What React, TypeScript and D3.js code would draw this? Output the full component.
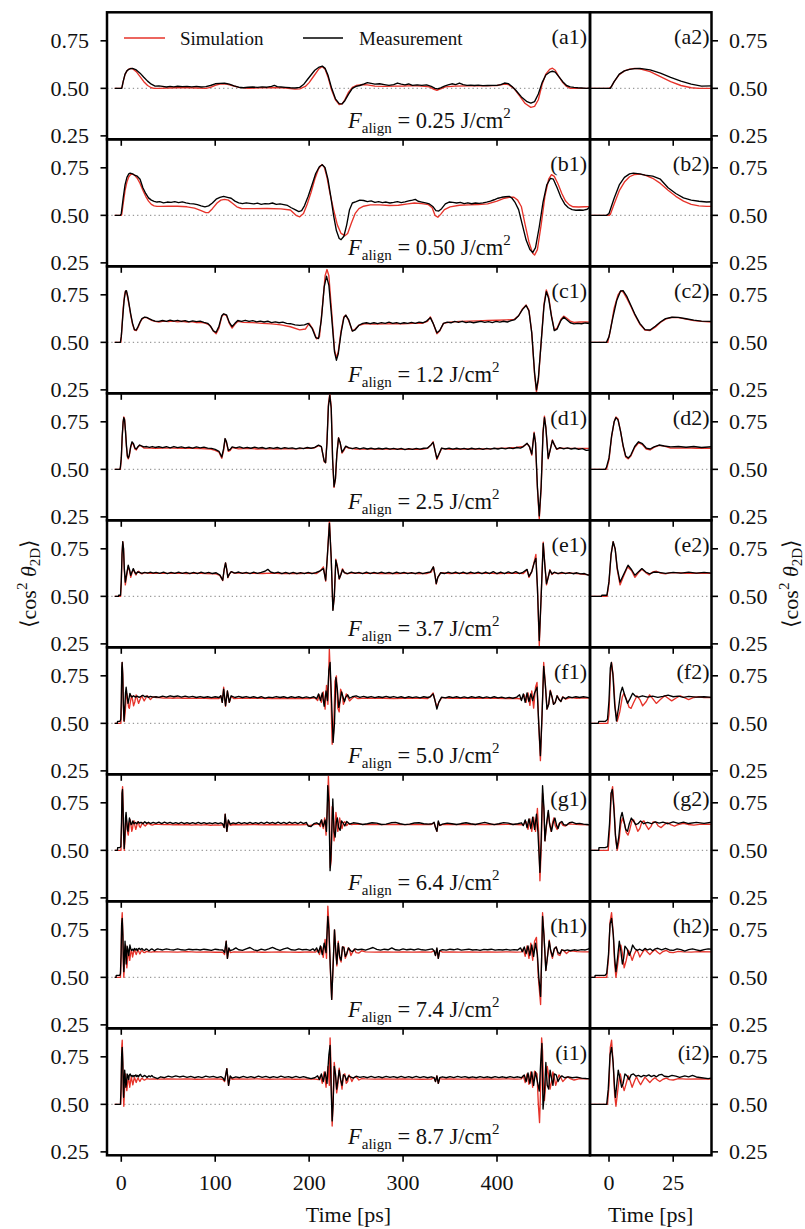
import React from 'react';
import * as d3 from 'd3';

type P = [number, number];

const rowLetters = ['a', 'b', 'c', 'd', 'e', 'f', 'g', 'h', 'i'];
const fluences = ['0.25', '0.50', '1.2', '2.5', '3.7', '5.0', '6.4', '7.4', '8.7'];
const yTicks = [0.25, 0.5, 0.75];
const yTickLabels = ['0.25', '0.50', '0.75'];
const xTicksLeft = [0, 100, 200, 300, 400];
const xTicksRight = [0, 25];
const seriesNames = ['Simulation', 'Measurement'];

const simA: P[] = [[-7,0.5],[0,0.5],[1,0.51],[2,0.535],[4,0.572],[6,0.592],[8,0.601],[10,0.605],[12,0.603],[16,0.588],[20,0.562],[24,0.535],[28,0.515],[32,0.503],[35,0.5],[40,0.5],[50,0.502],[60,0.503],[70,0.503],[80,0.502],[90,0.5],[95,0.505],[100,0.516],[105,0.522],[112,0.522],[118,0.515],[125,0.505],[135,0.5],[150,0.503],[165,0.504],[175,0.502],[185,0.496],[190,0.497],[196,0.51],[200,0.53],[205,0.565],[210,0.6],[214,0.615],[217,0.6],[220,0.56],[224,0.49],[228,0.44],[232,0.415],[235,0.418],[238,0.44],[242,0.48],[246,0.505],[250,0.515],[256,0.52],[262,0.518],[270,0.512],[280,0.51],[290,0.512],[300,0.512],[310,0.514],[320,0.512],[328,0.508],[333,0.495],[336,0.49],[340,0.497],[345,0.508],[355,0.512],[370,0.513],[385,0.513],[400,0.515],[408,0.522],[412,0.52],[418,0.5],[424,0.46],[430,0.42],[436,0.4],[440,0.405],[444,0.44],[448,0.52],[452,0.575],[456,0.6],[459,0.606],[462,0.595],[466,0.56],[470,0.53],[474,0.51],[478,0.5],[485,0.5],[499,0.5]];
const measA: P[] = [[-7,0.5],[0.5,0.5],[2,0.535],[4,0.575],[6,0.592],[8,0.6],[10,0.604],[12,0.605],[16,0.597],[20,0.58],[24,0.558],[28,0.538],[32,0.522],[36,0.512],[40,0.513],[44,0.51],[48,0.507],[52,0.51],[56,0.508],[60,0.511],[65,0.509],[70,0.51],[75,0.508],[80,0.51],[85,0.507],[90,0.509],[95,0.515],[100,0.524],[105,0.526],[110,0.527],[115,0.522],[120,0.513],[125,0.506],[130,0.503],[135,0.506],[140,0.507],[145,0.505],[150,0.508],[155,0.506],[160,0.51],[163,0.516],[166,0.509],[170,0.507],[175,0.505],[180,0.503],[185,0.502],[190,0.505],[194,0.52],[198,0.545],[202,0.57],[206,0.595],[210,0.61],[214,0.617],[217,0.605],[220,0.57],[224,0.5],[228,0.445],[232,0.42],[235,0.418],[238,0.435],[242,0.47],[246,0.5],[250,0.51],[254,0.515],[258,0.522],[262,0.53],[266,0.526],[270,0.522],[275,0.524],[280,0.52],[285,0.516],[290,0.52],[294,0.528],[298,0.522],[302,0.518],[306,0.523],[310,0.516],[315,0.518],[320,0.516],[325,0.518],[330,0.51],[334,0.5],[337,0.497],[340,0.503],[344,0.512],[348,0.518],[352,0.524],[356,0.52],[360,0.528],[364,0.52],[368,0.516],[372,0.517],[376,0.515],[380,0.517],[385,0.514],[390,0.515],[395,0.516],[400,0.516],[404,0.52],[408,0.528],[412,0.525],[416,0.51],[420,0.49],[426,0.455],[432,0.43],[436,0.422],[440,0.43],[444,0.47],[448,0.53],[452,0.57],[456,0.585],[459,0.59],[462,0.585],[466,0.56],[470,0.535],[474,0.515],[478,0.508],[482,0.505],[486,0.503],[490,0.502],[495,0.5],[499,0.502]];

const simB: P[] = [[-7,0.5],[0,0.5],[0.5,0.505],[2,0.56],[4,0.63],[6,0.675],[8,0.703],[10,0.715],[12,0.717],[14,0.712],[17,0.695],[20,0.668],[23,0.632],[26,0.6],[29,0.575],[32,0.558],[35,0.55],[38,0.547],[42,0.547],[50,0.548],[60,0.548],[70,0.545],[78,0.538],[85,0.525],[90,0.514],[93,0.515],[97,0.535],[102,0.565],[106,0.58],[110,0.584],[114,0.58],[118,0.565],[123,0.545],[128,0.536],[140,0.535],[155,0.536],[170,0.534],[180,0.528],[186,0.5],[190,0.492],[194,0.51],[198,0.56],[202,0.62],[206,0.69],[210,0.745],[213.5,0.767],[216,0.755],[219,0.7],[222,0.62],[226,0.53],[230,0.45],[234,0.405],[238,0.393],[241,0.405],[245,0.46],[249,0.51],[253,0.535],[258,0.548],[265,0.555],[275,0.555],[285,0.552],[295,0.553],[305,0.56],[312,0.565],[320,0.562],[327,0.556],[331,0.54],[334,0.5],[337,0.49],[340,0.505],[344,0.53],[350,0.545],[360,0.553],[370,0.555],[380,0.557],[390,0.56],[400,0.575],[408,0.59],[413,0.595],[418,0.595],[422,0.58],[426,0.545],[430,0.45],[434,0.36],[438,0.3],[440,0.291],[443,0.32],[447,0.45],[451,0.6],[455,0.69],[458,0.714],[461,0.705],[465,0.665],[469,0.615],[473,0.575],[477,0.555],[481,0.545],[487,0.544],[493,0.545],[499,0.546]];
const measB: P[] = [[-7,0.5],[-1,0.5],[0,0.51],[2,0.59],[4,0.66],[6,0.7],[8,0.718],[9.5,0.722],[12,0.718],[14,0.712],[17,0.706],[20,0.69],[23,0.645],[26,0.615],[29,0.592],[32,0.58],[35,0.574],[38,0.57],[41,0.572],[45,0.566],[49,0.57],[53,0.568],[57,0.572],[61,0.567],[65,0.571],[69,0.566],[73,0.562],[77,0.56],[81,0.556],[85,0.55],[89,0.545],[93,0.55],[97,0.565],[101,0.585],[105,0.594],[109,0.6],[113,0.595],[117,0.59],[121,0.575],[125,0.566],[129,0.562],[133,0.566],[137,0.563],[141,0.56],[145,0.564],[149,0.558],[153,0.562],[157,0.56],[161,0.565],[165,0.558],[169,0.56],[173,0.556],[177,0.552],[181,0.54],[185,0.53],[189,0.52],[192,0.525],[195,0.55],[199,0.6],[203,0.66],[207,0.72],[211,0.757],[214,0.766],[217,0.75],[220,0.69],[223,0.6],[226,0.5],[229,0.42],[232,0.378],[234,0.372],[237,0.39],[240,0.45],[243,0.53],[246,0.565],[250,0.572],[254,0.58],[258,0.578],[262,0.572],[266,0.576],[270,0.568],[274,0.572],[278,0.567],[282,0.57],[286,0.565],[290,0.568],[294,0.572],[298,0.567],[302,0.571],[306,0.576],[310,0.58],[313,0.584],[316,0.574],[320,0.57],[324,0.566],[328,0.56],[332,0.545],[335,0.525],[338,0.523],[341,0.535],[345,0.56],[349,0.57],[353,0.568],[357,0.565],[361,0.568],[365,0.562],[369,0.566],[373,0.561],[377,0.565],[381,0.563],[385,0.566],[389,0.57],[393,0.575],[397,0.582],[401,0.59],[405,0.595],[409,0.598],[413,0.6],[416,0.59],[419,0.57],[423,0.53],[427,0.45],[431,0.37],[435,0.32],[438,0.304],[441,0.33],[445,0.44],[449,0.57],[453,0.66],[457,0.695],[460,0.69],[464,0.645],[468,0.595],[472,0.56],[476,0.54],[480,0.53],[484,0.527],[488,0.528],[492,0.527],[496,0.532],[499,0.545]];

const simC: P[] = [[-7,0.5],[-0.5,0.5],[0.5,0.56],[2,0.68],[3.5,0.75],[4.5,0.77],[5.5,0.765],[7,0.73],[8.5,0.69],[10,0.645],[12,0.595],[14,0.565],[16,0.562],[18,0.58],[20,0.605],[22,0.622],[24.5,0.631],[27,0.63],[30,0.622],[33,0.614],[36,0.61],[40,0.607],[45,0.612],[50,0.609],[55,0.612],[60,0.608],[65,0.611],[70,0.607],[75,0.609],[80,0.604],[85,0.605],[90,0.6],[94,0.59],[98,0.56],[101,0.545],[104,0.575],[107,0.635],[109,0.648],[112,0.64],[115,0.6],[118,0.575],[121,0.595],[124,0.61],[130,0.605],[140,0.604],[150,0.6],[160,0.597],[170,0.592],[180,0.582],[190,0.566],[196,0.57],[200,0.6],[204,0.57],[208,0.518],[211,0.53],[214,0.68],[217,0.85],[219,0.883],[221,0.85],[224,0.66],[227,0.46],[229,0.42],[231,0.45],[234,0.56],[237,0.635],[239,0.643],[242,0.615],[246,0.56],[249,0.57],[253,0.59],[260,0.598],[270,0.596],[280,0.597],[290,0.598],[300,0.597],[310,0.6],[320,0.6],[326,0.61],[329,0.634],[332,0.6],[336,0.545],[339,0.56],[343,0.6],[350,0.606],[360,0.61],[370,0.612],[380,0.613],[390,0.615],[400,0.616],[410,0.618],[418,0.62],[423,0.64],[427,0.675],[431,0.696],[434,0.67],[437,0.55],[440,0.33],[442,0.238],[444,0.3],[447,0.5],[450,0.7],[452.5,0.776],[455,0.74],[458,0.64],[461,0.565],[464,0.575],[468,0.62],[471,0.638],[474,0.628],[478,0.612],[482,0.605],[488,0.607],[494,0.607],[499,0.606]];
const measC: P[] = [[-7,0.5],[-1,0.5],[0,0.53],[1.5,0.63],[3,0.72],[4.5,0.77],[5.5,0.772],[7,0.74],[8.5,0.695],[10,0.65],[12,0.6],[14,0.567],[16,0.565],[18,0.585],[20,0.607],[22,0.625],[24.5,0.632],[27,0.631],[30,0.624],[33,0.617],[36,0.612],[40,0.61],[44,0.615],[48,0.61],[52,0.617],[56,0.612],[60,0.616],[64,0.61],[68,0.614],[72,0.608],[76,0.613],[80,0.609],[84,0.612],[88,0.605],[92,0.6],[95,0.585],[98,0.56],[101,0.553],[104,0.585],[107,0.64],[109,0.65],[112,0.645],[115,0.605],[118,0.583],[121,0.6],[124,0.615],[128,0.61],[132,0.616],[136,0.61],[140,0.614],[144,0.608],[148,0.612],[152,0.607],[156,0.611],[160,0.604],[164,0.608],[168,0.603],[172,0.606],[176,0.6],[180,0.598],[185,0.592],[190,0.589],[195,0.592],[199,0.6],[203,0.575],[207,0.525],[210,0.52],[213,0.62],[216,0.79],[218.5,0.848],[221,0.8],[224,0.63],[227,0.45],[229,0.406],[231,0.44],[234,0.55],[237,0.63],[239,0.643],[242,0.62],[246,0.559],[249,0.566],[253,0.59],[257,0.6],[261,0.603],[265,0.598],[269,0.603],[273,0.598],[277,0.604],[281,0.6],[285,0.606],[289,0.6],[293,0.604],[297,0.598],[301,0.603],[305,0.6],[309,0.605],[313,0.6],[317,0.606],[321,0.603],[325,0.612],[329,0.63],[332,0.6],[336,0.55],[339,0.562],[343,0.6],[347,0.606],[351,0.603],[355,0.61],[359,0.605],[363,0.61],[367,0.604],[371,0.608],[375,0.603],[379,0.607],[383,0.61],[387,0.605],[391,0.609],[395,0.604],[399,0.61],[403,0.606],[407,0.611],[411,0.607],[415,0.614],[419,0.62],[423,0.64],[427,0.672],[431,0.694],[434,0.665],[437,0.55],[440,0.34],[442,0.25],[444,0.31],[447,0.5],[450,0.69],[452.5,0.767],[455,0.73],[458,0.635],[461,0.562],[464,0.57],[468,0.615],[471,0.633],[474,0.62],[478,0.603],[482,0.597],[486,0.6],[490,0.598],[494,0.602],[499,0.599]];

const simD: P[] = [[-7,0.5],[-1,0.5],[0,0.55],[1,0.67],[2,0.75],[2.7,0.776],[3.5,0.765],[4.5,0.7],[5.5,0.62],[6.5,0.565],[7.5,0.555],[8.5,0.57],[10,0.615],[11.5,0.64],[13,0.63],[14.5,0.607],[16,0.602],[17.5,0.615],[19.5,0.626],[21.5,0.622],[24,0.612],[27,0.612],[30,0.613],[34,0.611],[38,0.61],[45,0.612],[55,0.612],[65,0.61],[75,0.611],[85,0.609],[95,0.607],[100,0.6],[104,0.59],[107,0.558],[109,0.6],[110.5,0.66],[112,0.64],[114,0.595],[116,0.6],[118,0.615],[125,0.608],[135,0.61],[145,0.607],[155,0.609],[165,0.607],[175,0.609],[185,0.608],[195,0.61],[205,0.612],[210,0.625],[213,0.62],[216,0.54],[217.5,0.535],[219,0.65],[220.5,0.84],[222,0.9],[223.5,0.83],[225,0.55],[226.5,0.405],[228,0.45],[229.5,0.58],[231.3,0.667],[233,0.64],[235,0.585],[237,0.6],[239,0.62],[242,0.612],[250,0.607],[260,0.606],[270,0.608],[280,0.606],[290,0.607],[300,0.605],[310,0.606],[320,0.605],[326,0.61],[330,0.63],[332,0.645],[334,0.6],[336,0.552],[338,0.575],[341,0.61],[350,0.605],[360,0.607],[370,0.607],[380,0.607],[390,0.608],[400,0.61],[410,0.612],[420,0.615],[428,0.62],[432,0.635],[434.5,0.62],[437,0.575],[439.5,0.695],[441,0.64],[443,0.4],[445,0.24],[447,0.4],[449,0.7],[450.5,0.78],[452,0.72],[454.5,0.555],[456.5,0.6],[459,0.655],[461,0.63],[463.5,0.605],[467,0.612],[475,0.61],[485,0.61],[499,0.61]];
const measD: P[] = [[-7,0.5],[-1.5,0.5],[-1,0.51],[0,0.56],[1,0.675],[2,0.75],[2.7,0.772],[3.5,0.76],[4.5,0.7],[5.5,0.625],[6.5,0.57],[7.5,0.56],[8.5,0.575],[10,0.62],[11.5,0.645],[13,0.635],[14.5,0.612],[16,0.607],[17.5,0.618],[19.5,0.628],[21.5,0.623],[24,0.618],[27,0.62],[30,0.616],[33,0.62],[36,0.615],[40,0.619],[44,0.614],[48,0.619],[52,0.613],[56,0.62],[60,0.614],[64,0.618],[68,0.613],[72,0.617],[76,0.612],[80,0.618],[84,0.613],[88,0.617],[92,0.612],[96,0.61],[100,0.605],[104,0.595],[107,0.565],[109,0.61],[110.5,0.662],[112,0.645],[114,0.6],[116,0.605],[118,0.618],[122,0.613],[126,0.618],[130,0.612],[134,0.616],[138,0.611],[142,0.617],[146,0.612],[150,0.615],[154,0.609],[158,0.614],[162,0.61],[166,0.615],[170,0.609],[174,0.614],[178,0.61],[182,0.613],[186,0.608],[190,0.613],[194,0.609],[198,0.615],[202,0.611],[206,0.616],[210,0.627],[213,0.62],[216,0.545],[217.5,0.535],[219,0.64],[220.5,0.83],[222,0.89],[223.5,0.82],[225,0.55],[226.5,0.41],[228,0.45],[229.5,0.58],[231.3,0.665],[233,0.64],[235,0.59],[237,0.605],[239,0.622],[242,0.614],[246,0.609],[250,0.614],[254,0.608],[258,0.613],[262,0.607],[266,0.612],[270,0.606],[274,0.611],[278,0.607],[282,0.612],[286,0.606],[290,0.61],[294,0.605],[298,0.61],[302,0.604],[306,0.609],[310,0.605],[314,0.61],[318,0.606],[322,0.611],[326,0.612],[330,0.63],[332,0.642],[334,0.6],[336,0.557],[338,0.578],[341,0.612],[345,0.607],[349,0.612],[353,0.606],[357,0.611],[361,0.606],[365,0.61],[369,0.605],[373,0.611],[377,0.606],[381,0.61],[385,0.605],[389,0.61],[393,0.606],[397,0.611],[401,0.607],[405,0.612],[409,0.608],[413,0.613],[417,0.609],[421,0.615],[425,0.612],[428,0.62],[432,0.637],[434.5,0.62],[437,0.58],[439.5,0.69],[441,0.64],[443,0.41],[445,0.255],[447,0.41],[449,0.69],[450.5,0.772],[452,0.72],[454.5,0.558],[456.5,0.6],[459,0.652],[461,0.63],[463.5,0.607],[467,0.614],[471,0.608],[475,0.613],[479,0.607],[483,0.611],[487,0.605],[491,0.609],[495,0.6],[499,0.602]];

const simE: P[] = [[-7,0.5],[-0.8,0.5],[0,0.57],[0.8,0.72],[1.6,0.787],[2.4,0.75],[3.2,0.64],[4.3,0.56],[5.5,0.6],[7.2,0.655],[8.8,0.635],[10.1,0.6],[11.5,0.625],[12.8,0.642],[14.3,0.625],[15.6,0.612],[17,0.628],[18.5,0.632],[20,0.622],[22,0.618],[24,0.625],[27,0.624],[30,0.621],[35,0.622],[40,0.621],[50,0.621],[60,0.622],[70,0.62],[80,0.622],[90,0.62],[100,0.619],[105,0.61],[108,0.583],[109.5,0.64],[111,0.676],[112.3,0.64],[113.5,0.598],[115,0.615],[117,0.63],[120,0.622],[130,0.622],[140,0.621],[150,0.62],[160,0.622],[170,0.62],[180,0.621],[190,0.62],[200,0.622],[208,0.62],[212,0.635],[215.2,0.655],[217.6,0.58],[219.5,0.72],[221.6,0.9],[223.5,0.7],[225.3,0.43],[226.8,0.5],[228.4,0.695],[230,0.66],[232,0.59],[233.8,0.615],[235.5,0.645],[237.5,0.625],[240,0.618],[245,0.624],[255,0.621],[265,0.622],[275,0.62],[285,0.621],[295,0.62],[305,0.622],[315,0.62],[325,0.62],[330,0.628],[332.3,0.655],[334,0.61],[335.3,0.565],[337,0.6],[340,0.625],[350,0.62],[360,0.622],[370,0.62],[380,0.621],[390,0.622],[400,0.62],[410,0.621],[420,0.622],[428,0.62],[432,0.64],[434,0.6],[437,0.63],[439.5,0.68],[441.4,0.72],[443,0.55],[445,0.24],[447,0.5],[449.2,0.785],[451,0.66],[452.7,0.56],[454.5,0.6],[456.3,0.64],[458.5,0.615],[461,0.625],[465,0.62],[475,0.622],[485,0.62],[495,0.615],[499,0.614]];
const measE: P[] = [[-7,0.5],[-3,0.5],[-2.8,0.506],[-0.8,0.506],[0,0.58],[0.8,0.72],[1.6,0.787],[2.4,0.75],[3.2,0.65],[4.3,0.575],[5.5,0.61],[7.4,0.664],[8.8,0.64],[10.1,0.611],[11.5,0.63],[12.8,0.646],[14.3,0.628],[15.8,0.618],[17.5,0.628],[19.5,0.626],[22,0.621],[25,0.626],[28,0.622],[31,0.627],[34,0.622],[37,0.626],[41,0.621],[45,0.627],[49,0.62],[53,0.626],[57,0.621],[61,0.627],[65,0.621],[69,0.626],[73,0.62],[77,0.626],[81,0.62],[85,0.627],[89,0.621],[93,0.626],[97,0.62],[101,0.624],[105,0.612],[108,0.585],[109.5,0.64],[111,0.676],[112.3,0.64],[113.5,0.6],[115,0.617],[117,0.63],[121,0.622],[125,0.628],[129,0.621],[133,0.626],[137,0.62],[141,0.627],[145,0.621],[149,0.626],[153,0.632],[156,0.642],[159,0.628],[163,0.622],[167,0.627],[171,0.62],[175,0.626],[179,0.62],[183,0.626],[187,0.619],[191,0.625],[195,0.62],[199,0.626],[203,0.619],[207,0.625],[211,0.632],[215.2,0.646],[217.6,0.585],[219.5,0.72],[221.6,0.884],[223.5,0.7],[225.3,0.426],[226.8,0.5],[228.4,0.69],[230,0.655],[232,0.593],[233.8,0.615],[235.5,0.64],[237.5,0.625],[241,0.62],[245,0.627],[249,0.621],[253,0.626],[257,0.62],[261,0.627],[265,0.62],[269,0.626],[273,0.621],[277,0.627],[281,0.621],[285,0.626],[289,0.62],[293,0.627],[297,0.621],[301,0.626],[305,0.62],[309,0.625],[313,0.619],[317,0.626],[321,0.62],[325,0.625],[329,0.628],[332.3,0.655],[334,0.61],[335.3,0.567],[337,0.6],[340,0.624],[344,0.62],[348,0.627],[352,0.621],[356,0.628],[360,0.62],[364,0.627],[368,0.62],[372,0.628],[376,0.621],[380,0.627],[384,0.619],[388,0.628],[392,0.62],[396,0.63],[400,0.619],[404,0.628],[408,0.62],[412,0.629],[416,0.621],[420,0.63],[424,0.62],[428,0.628],[432,0.642],[434,0.605],[437,0.63],[439.5,0.675],[441.4,0.7],[443,0.55],[445,0.268],[447,0.5],[449.2,0.778],[451,0.66],[452.7,0.567],[454.5,0.6],[456.3,0.637],[458.5,0.618],[461,0.627],[465,0.62],[469,0.626],[473,0.62],[477,0.625],[481,0.619],[485,0.624],[489,0.618],[493,0.62],[497,0.612],[499,0.611]];

const simF: P[] = [[-7,0.5],[-0.5,0.5],[0,0.55],[0.5,0.75],[1.0,0.82],[1.7,0.74],[2.4,0.58],[3.2,0.51],[4.2,0.56],[5.2,0.64],[5.8,0.658],[6.8,0.625],[7.8,0.585],[8.6,0.579],[9.6,0.61],[10.9,0.645],[12,0.625],[13.1,0.592],[14.5,0.615],[15.8,0.65],[17,0.63],[18.4,0.605],[20,0.625],[21.7,0.645],[23,0.632],[24.4,0.618],[26,0.632],[27.7,0.645],[29.3,0.635],[31,0.625],[33,0.636],[35,0.64],[37,0.635],[40,0.636],[45,0.633],[50,0.634],[55,0.632],[60,0.634],[65,0.632],[70,0.633],[75,0.631],[80,0.633],[85,0.631],[90,0.632],[95,0.63],[100,0.632],[104,0.63],[106,0.645],[107.5,0.61],[109,0.69],[111,0.59],[113,0.67],[115,0.61],[117,0.642],[120,0.63],[130,0.633],[140,0.631],[150,0.632],[160,0.63],[170,0.632],[180,0.63],[190,0.631],[200,0.63],[206,0.634],[209,0.62],[211,0.65],[213,0.61],[215,0.665],[217,0.575],[218.5,0.7],[220,0.6],[221.5,0.89],[223,0.7],[224.5,0.39],[226,0.45],[227.5,0.72],[229,0.75],[230.5,0.58],[232,0.56],[233.5,0.68],[235,0.66],[236.5,0.6],[238,0.62],[239.5,0.655],[241,0.64],[243,0.618],[245,0.628],[248,0.64],[252,0.63],[260,0.633],[270,0.631],[280,0.632],[290,0.63],[300,0.632],[310,0.631],[320,0.632],[326,0.63],[329,0.64],[332,0.66],[334,0.62],[336,0.585],[338,0.61],[341,0.635],[350,0.632],[360,0.633],[370,0.631],[380,0.632],[390,0.631],[400,0.632],[410,0.63],[420,0.632],[426,0.628],[429,0.65],[431,0.61],[433,0.66],[435,0.595],[437,0.67],[439,0.58],[441,0.69],[442.6,0.715],[444.4,0.5],[446.2,0.304],[448,0.55],[449.7,0.82],[451.5,0.7],[453.2,0.575],[455,0.6],[456.7,0.675],[458.5,0.64],[460.2,0.6],[462,0.61],[464,0.645],[466,0.628],[468,0.615],[470,0.64],[473,0.627],[478,0.635],[485,0.632],[492,0.634],[499,0.633]];
const measF: P[] = [[-7,0.5],[-4.2,0.5],[-4,0.51],[-1.5,0.51],[-0.6,0.52],[0,0.62],[0.5,0.79],[0.9,0.82],[1.5,0.76],[2.2,0.6],[2.9,0.513],[3.7,0.58],[4.5,0.66],[5.2,0.69],[6.2,0.645],[7.2,0.605],[8.2,0.63],[9.2,0.658],[10.3,0.643],[11.5,0.638],[13,0.645],[15,0.638],[17,0.643],[19,0.637],[21,0.642],[23,0.648],[25,0.64],[27,0.643],[29,0.637],[31,0.642],[34,0.638],[37,0.64],[40,0.637],[44,0.643],[48,0.638],[52,0.645],[56,0.64],[60,0.644],[64,0.638],[68,0.643],[72,0.638],[76,0.642],[80,0.636],[84,0.641],[88,0.636],[92,0.64],[96,0.635],[100,0.64],[104,0.636],[106,0.645],[107.5,0.61],[109,0.68],[111,0.593],[113,0.67],[115,0.61],[117,0.645],[121,0.636],[125,0.642],[129,0.636],[133,0.641],[137,0.635],[141,0.64],[145,0.634],[149,0.64],[153,0.633],[157,0.638],[161,0.635],[165,0.641],[169,0.636],[173,0.64],[177,0.634],[181,0.64],[185,0.635],[189,0.64],[193,0.634],[197,0.639],[201,0.634],[205,0.64],[208,0.63],[210,0.655],[212,0.62],[214,0.66],[216,0.59],[218,0.67],[219.5,0.62],[221,0.78],[222.3,0.82],[224,0.6],[225.5,0.4],[227,0.5],[228.5,0.74],[230,0.68],[231.5,0.584],[233,0.62],[234.5,0.665],[236,0.64],[237.5,0.615],[239,0.638],[241,0.65],[243,0.632],[246,0.64],[250,0.645],[254,0.637],[258,0.642],[262,0.636],[266,0.641],[270,0.635],[274,0.64],[278,0.636],[282,0.642],[286,0.636],[290,0.641],[294,0.635],[298,0.64],[302,0.634],[306,0.64],[310,0.635],[314,0.639],[318,0.634],[322,0.64],[326,0.636],[329,0.64],[332,0.655],[334,0.62],[336,0.575],[338,0.61],[341,0.638],[345,0.634],[349,0.64],[353,0.635],[357,0.64],[361,0.634],[365,0.639],[369,0.634],[373,0.64],[377,0.635],[381,0.64],[385,0.634],[389,0.639],[393,0.634],[397,0.64],[401,0.634],[405,0.638],[409,0.633],[413,0.637],[417,0.632],[421,0.638],[424,0.65],[426,0.62],[428,0.655],[430,0.61],[432,0.66],[434,0.615],[436,0.655],[438,0.62],[440,0.66],[442.6,0.69],[444.4,0.5],[446.2,0.33],[448,0.55],[449.7,0.8],[451.5,0.7],[453.2,0.575],[455,0.6],[456.7,0.67],[458.5,0.64],[460.2,0.6],[462,0.61],[464,0.645],[466,0.625],[468,0.615],[470,0.638],[473,0.63],[476,0.64],[480,0.635],[484,0.64],[488,0.636],[492,0.64],[496,0.637],[499,0.634]];

const simG: P[] = [[-7,0.5],[-0.3,0.5],[0.3,0.62],[0.9,0.8],[1.4,0.835],[2,0.72],[2.6,0.56],[3.2,0.5],[3.9,0.55],[4.6,0.64],[5.3,0.67],[6,0.64],[6.7,0.595],[7.4,0.58],[8.1,0.61],[8.9,0.655],[9.6,0.66],[10.4,0.63],[11.2,0.6],[12,0.615],[12.8,0.65],[13.6,0.655],[14.5,0.63],[15.4,0.61],[16.3,0.625],[17.2,0.65],[18.2,0.648],[19.2,0.628],[20.3,0.62],[21.5,0.635],[22.8,0.645],[24,0.635],[25.5,0.628],[27,0.636],[29,0.642],[31,0.636],[33,0.633],[36,0.638],[40,0.637],[45,0.635],[50,0.637],[55,0.634],[60,0.636],[65,0.634],[70,0.636],[75,0.633],[80,0.635],[85,0.633],[90,0.635],[95,0.632],[100,0.634],[105,0.633],[108,0.635],[109.5,0.62],[110.6,0.69],[112.4,0.6],[114,0.655],[116,0.632],[120,0.636],[130,0.634],[140,0.636],[150,0.634],[160,0.636],[170,0.634],[180,0.636],[190,0.634],[197,0.636],[200,0.63],[205,0.635],[210,0.64],[212,0.625],[213.5,0.66],[215,0.615],[216.5,0.67],[218,0.58],[219.5,0.72],[220.5,0.89],[221.5,0.75],[222.5,0.41],[223.5,0.45],[224.5,0.73],[225.5,0.72],[226.5,0.55],[227.5,0.6],[228.5,0.7],[229.5,0.66],[230.5,0.6],[231.5,0.63],[232.5,0.67],[233.5,0.645],[235,0.615],[236.5,0.645],[238,0.65],[240,0.63],[242,0.642],[245,0.635],[250,0.638],[260,0.635],[270,0.637],[280,0.635],[290,0.637],[300,0.635],[310,0.636],[320,0.635],[330,0.636],[333,0.645],[334.5,0.62],[336,0.6],[337.5,0.65],[339,0.63],[342,0.636],[350,0.637],[360,0.635],[370,0.637],[380,0.636],[390,0.637],[400,0.636],[410,0.637],[420,0.636],[428,0.634],[431,0.65],[433,0.61],[435,0.665],[437,0.6],[439,0.675],[441,0.6],[443,0.72],[444.5,0.58],[445.7,0.34],[447,0.5],[448.5,0.8],[450,0.7],[451,0.55],[452.5,0.62],[454.6,0.7],[456,0.64],[457.5,0.6],[459,0.64],[460.5,0.67],[462,0.63],[464,0.61],[466,0.64],[468,0.648],[470,0.632],[473,0.628],[476,0.64],[480,0.638],[488,0.636],[499,0.634]];
const measG: P[] = [[-7,0.5],[-4,0.5],[-3.9,0.514],[-1.5,0.514],[-0.5,0.52],[0.2,0.64],[0.8,0.8],[1.3,0.82],[1.9,0.72],[2.5,0.58],[3.1,0.51],[3.8,0.57],[4.5,0.67],[5.1,0.7],[5.8,0.655],[6.5,0.61],[7.2,0.6],[7.9,0.64],[8.7,0.67],[9.5,0.655],[10.4,0.635],[11.3,0.64],[12.3,0.655],[13.5,0.64],[15,0.647],[16.5,0.64],[18,0.65],[19.5,0.643],[21,0.648],[23,0.64],[25,0.65],[27,0.642],[29,0.648],[31,0.641],[34,0.647],[37,0.642],[40,0.648],[43,0.641],[46,0.648],[49,0.642],[52,0.647],[55,0.64],[58,0.646],[61,0.641],[64,0.647],[67,0.64],[70,0.646],[73,0.64],[76,0.646],[79,0.641],[82,0.647],[85,0.64],[88,0.646],[91,0.64],[94,0.645],[97,0.64],[100,0.646],[103,0.64],[106,0.645],[108,0.64],[109.5,0.62],[110.6,0.69],[112.4,0.6],[114,0.66],[116,0.638],[119,0.645],[122,0.64],[125,0.647],[128,0.641],[131,0.646],[134,0.64],[137,0.647],[140,0.641],[143,0.646],[146,0.64],[149,0.647],[152,0.641],[155,0.648],[158,0.642],[161,0.647],[164,0.641],[167,0.648],[170,0.641],[173,0.647],[176,0.64],[179,0.648],[182,0.642],[185,0.647],[188,0.64],[191,0.648],[194,0.641],[197,0.647],[199,0.628],[202,0.625],[205,0.64],[208,0.645],[211,0.635],[213,0.66],[215,0.625],[217,0.66],[218.5,0.6],[219.8,0.84],[221,0.75],[222.3,0.393],[223.5,0.5],[225.2,0.77],[226.5,0.6],[227.7,0.57],[229,0.65],[230,0.67],[231.5,0.62],[233,0.605],[234.5,0.655],[236,0.645],[238,0.628],[240,0.652],[243,0.638],[247,0.645],[252,0.642],[257,0.636],[262,0.64],[267,0.645],[272,0.643],[277,0.636],[282,0.638],[287,0.645],[292,0.647],[297,0.64],[302,0.635],[307,0.638],[312,0.644],[317,0.645],[322,0.64],[327,0.638],[331,0.64],[333,0.648],[334.5,0.62],[336,0.6],[337.5,0.655],[339,0.632],[342,0.638],[347,0.643],[352,0.64],[357,0.636],[362,0.641],[367,0.645],[372,0.64],[377,0.636],[382,0.642],[387,0.647],[392,0.641],[397,0.635],[402,0.64],[407,0.646],[412,0.643],[417,0.636],[422,0.64],[426,0.645],[428,0.63],[430,0.66],[432,0.62],[434,0.665],[436,0.615],[438,0.675],[440,0.61],[442,0.69],[443.5,0.6],[445.7,0.384],[447,0.55],[448.5,0.84],[450,0.72],[451,0.55],[452.5,0.63],[454.6,0.71],[456,0.64],[458,0.6],[460,0.65],[461.7,0.67],[463.5,0.63],[465,0.615],[467,0.645],[469,0.652],[471,0.635],[474,0.632],[477,0.645],[480,0.648],[484,0.64],[488,0.642],[492,0.638],[496,0.636],[499,0.634]];

const simH: P[] = [[-7,0.5],[-0.9,0.5],[-0.2,0.6],[0.4,0.79],[1.0,0.84],[1.6,0.74],[2.2,0.57],[2.7,0.5],[3.3,0.56],[4.0,0.64],[4.6,0.67],[5.3,0.62],[5.9,0.55],[6.7,0.59],[7.5,0.643],[8.2,0.625],[9.0,0.589],[9.8,0.62],[10.7,0.646],[11.4,0.63],[12,0.607],[13,0.63],[14,0.648],[15,0.632],[15.9,0.62],[16.9,0.635],[17.9,0.645],[18.9,0.632],[19.8,0.623],[21,0.636],[22.3,0.642],[23.5,0.632],[25,0.63],[27,0.637],[29,0.634],[32,0.633],[35,0.635],[40,0.634],[50,0.634],[60,0.633],[70,0.635],[80,0.633],[90,0.634],[100,0.632],[108,0.633],[110,0.62],[111.7,0.69],[113,0.6],[114.5,0.65],[116,0.63],[120,0.634],[130,0.633],[140,0.634],[150,0.632],[160,0.633],[170,0.634],[180,0.633],[190,0.632],[200,0.634],[207,0.633],[209,0.645],[211,0.62],[213,0.66],[215,0.605],[217,0.7],[218.5,0.6],[219.9,0.875],[221,0.78],[222.5,0.55],[224,0.384],[225.5,0.56],[227,0.75],[228.3,0.64],[229.5,0.56],[231,0.69],[232.5,0.6],[234,0.58],[235.5,0.66],[237,0.66],[238.5,0.6],[240,0.62],[241.5,0.655],[243,0.645],[244.5,0.615],[246,0.63],[248,0.648],[250,0.63],[253,0.628],[256,0.64],[260,0.634],[270,0.633],[280,0.634],[290,0.633],[300,0.634],[310,0.633],[320,0.634],[330,0.633],[333,0.64],[334.5,0.615],[336,0.65],[337.5,0.6],[339,0.64],[342,0.633],[350,0.634],[360,0.633],[370,0.634],[380,0.633],[390,0.634],[400,0.633],[410,0.634],[420,0.633],[426,0.634],[428,0.65],[430,0.61],[432,0.665],[434,0.6],[436,0.68],[438,0.59],[440,0.69],[442,0.71],[444,0.5],[446.4,0.357],[447.5,0.6],[448.5,0.84],[450,0.72],[452,0.536],[454,0.62],[455.6,0.696],[457,0.64],[459,0.6],[461,0.65],[463,0.66],[465,0.62],[467,0.615],[469,0.645],[471,0.64],[474,0.625],[477,0.638],[480,0.64],[485,0.635],[492,0.634],[499,0.634]];
const measH: P[] = [[-7,0.5],[-5.5,0.5],[-5.4,0.51],[-1.6,0.51],[-0.9,0.52],[-0.2,0.62],[0.4,0.78],[1.0,0.81],[1.7,0.72],[2.2,0.6],[2.7,0.53],[3.3,0.6],[4.0,0.69],[4.6,0.64],[5.2,0.57],[5.7,0.6],[6.2,0.664],[7,0.65],[7.9,0.615],[8.6,0.64],[9.2,0.67],[10,0.652],[11,0.642],[12,0.648],[13,0.64],[14,0.652],[15,0.644],[16,0.65],[17,0.64],[18,0.65],[19,0.653],[20.5,0.645],[22,0.652],[23.5,0.644],[25,0.642],[26.5,0.65],[28,0.646],[29.5,0.638],[31,0.646],[32.5,0.65],[34,0.645],[35.5,0.64],[37,0.646],[38.6,0.65],[40,0.648],[44,0.644],[48,0.65],[52,0.646],[56,0.644],[60,0.65],[64,0.645],[68,0.643],[72,0.648],[76,0.645],[80,0.647],[84,0.644],[88,0.648],[92,0.645],[96,0.642],[100,0.648],[104,0.645],[108,0.644],[110,0.63],[111.7,0.69],[113,0.6],[114.5,0.655],[116,0.64],[119,0.646],[122,0.655],[125,0.645],[129,0.642],[133,0.65],[137,0.657],[141,0.645],[145,0.64],[149,0.648],[153,0.643],[157,0.65],[161,0.658],[165,0.648],[169,0.642],[173,0.65],[177,0.655],[181,0.645],[185,0.643],[189,0.65],[193,0.645],[197,0.647],[201,0.642],[204,0.65],[206,0.64],[208,0.655],[210,0.63],[212,0.665],[214,0.62],[216,0.68],[218,0.63],[219.9,0.82],[221,0.75],[222.5,0.56],[224,0.384],[225.5,0.56],[227,0.75],[228.3,0.64],[229.5,0.57],[231,0.68],[232.5,0.61],[234,0.59],[235.5,0.66],[237,0.655],[238.5,0.61],[240,0.625],[242,0.655],[244,0.64],[246,0.635],[249,0.65],[252,0.645],[256,0.648],[260,0.643],[264,0.65],[268,0.657],[272,0.647],[276,0.643],[280,0.648],[284,0.645],[288,0.655],[292,0.645],[296,0.643],[300,0.65],[304,0.645],[308,0.648],[312,0.644],[316,0.65],[320,0.645],[324,0.643],[328,0.647],[331,0.65],[333,0.64],[334.5,0.615],[336,0.655],[337.5,0.6],[339,0.64],[342,0.646],[346,0.643],[350,0.648],[354,0.645],[358,0.65],[362,0.643],[366,0.646],[370,0.648],[374,0.644],[378,0.646],[382,0.642],[386,0.647],[390,0.645],[394,0.648],[398,0.643],[402,0.646],[406,0.644],[410,0.647],[414,0.643],[418,0.646],[422,0.644],[425,0.655],[427,0.635],[429,0.66],[431,0.625],[433,0.665],[435,0.615],[437,0.67],[439,0.61],[441,0.68],[443,0.62],[444.5,0.5],[446.4,0.4],[447.5,0.6],[448.5,0.82],[450,0.72],[452,0.536],[454,0.62],[455.6,0.69],[457,0.645],[459,0.61],[461,0.65],[463,0.66],[465,0.63],[467,0.625],[469,0.645],[472,0.64],[475,0.644],[478,0.64],[482,0.645],[486,0.642],[490,0.646],[494,0.644],[497,0.648],[499,0.655]];

const simI: P[] = [[-7,0.5],[-0.6,0.5],[0,0.6],[0.5,0.8],[1.0,0.837],[1.6,0.72],[2.2,0.55],[2.7,0.49],[3.3,0.56],[4.0,0.64],[4.4,0.66],[5.1,0.61],[5.9,0.572],[6.7,0.61],[7.5,0.65],[8.2,0.625],[9.0,0.59],[10.0,0.625],[10.7,0.645],[11.4,0.625],[12.3,0.603],[13.2,0.625],[14,0.643],[15,0.628],[15.9,0.615],[16.9,0.63],[17.9,0.64],[18.9,0.628],[19.8,0.62],[21,0.632],[22.3,0.638],[23.5,0.63],[25,0.628],[27,0.635],[30,0.633],[35,0.634],[40,0.633],[50,0.634],[60,0.633],[70,0.634],[80,0.632],[90,0.633],[100,0.634],[108,0.632],[110,0.62],[112.4,0.688],[114.2,0.6],[116,0.645],[118,0.632],[125,0.634],[135,0.633],[145,0.634],[155,0.632],[165,0.633],[175,0.634],[185,0.632],[195,0.633],[205,0.634],[210,0.63],[212,0.65],[214,0.61],[216,0.67],[218,0.59],[220,0.7],[221.5,0.6],[222.3,0.85],[223.3,0.7],[224.5,0.386],[225.5,0.5],[226.7,0.72],[228,0.66],[229.3,0.56],[230.5,0.6],[232,0.69],[233.5,0.63],[235,0.58],[236.5,0.655],[238,0.66],[239.5,0.61],[241,0.62],[242.5,0.655],[244,0.64],[245.5,0.62],[247.5,0.64],[250,0.645],[253,0.628],[256,0.635],[260,0.634],[270,0.633],[280,0.634],[290,0.633],[300,0.634],[310,0.633],[320,0.632],[330,0.633],[333,0.64],[334.5,0.62],[336,0.65],[337.5,0.61],[339,0.635],[342,0.633],[350,0.634],[360,0.633],[370,0.634],[380,0.633],[390,0.634],[400,0.633],[410,0.634],[420,0.633],[426,0.634],[428,0.65],[430,0.615],[432,0.66],[434,0.605],[436,0.67],[438,0.59],[440,0.675],[442.6,0.66],[444,0.5],[445.3,0.404],[446.5,0.6],[447.5,0.85],[448.5,0.78],[449.5,0.6],[450.5,0.52],[452,0.62],[453.5,0.7],[455,0.65],[456.5,0.58],[458,0.62],[459.5,0.67],[461,0.64],[462.5,0.6],[464,0.625],[466,0.655],[468,0.64],[470,0.62],[472,0.63],[475,0.645],[478,0.635],[482,0.628],[488,0.635],[499,0.634]];
const measI: P[] = [[-7,0.5],[-0.9,0.5],[-0.3,0.58],[0.4,0.76],[1.0,0.8],[1.6,0.72],[2.2,0.58],[2.5,0.537],[3.0,0.6],[3.6,0.68],[4.2,0.64],[4.9,0.59],[5.5,0.61],[6.2,0.66],[7,0.65],[7.8,0.63],[8.6,0.655],[9.5,0.66],[10.5,0.648],[11.5,0.652],[12.5,0.645],[13.5,0.652],[14.5,0.648],[15.5,0.655],[16.5,0.646],[17.5,0.652],[18.5,0.645],[19.5,0.655],[20.5,0.658],[21.5,0.648],[23,0.645],[24.5,0.652],[26,0.648],[27.5,0.642],[29.5,0.65],[31,0.645],[32.5,0.652],[34,0.644],[36,0.64],[38.6,0.635],[42,0.645],[46,0.64],[50,0.648],[54,0.643],[58,0.65],[62,0.644],[66,0.648],[70,0.642],[74,0.647],[78,0.64],[82,0.646],[86,0.641],[90,0.648],[94,0.643],[98,0.647],[102,0.641],[106,0.646],[108,0.64],[110,0.625],[112.4,0.688],[114.2,0.6],[116,0.65],[118,0.638],[122,0.645],[126,0.64],[130,0.647],[134,0.641],[138,0.646],[142,0.64],[146,0.648],[150,0.642],[154,0.647],[158,0.64],[162,0.646],[166,0.641],[170,0.648],[174,0.642],[178,0.646],[182,0.64],[186,0.647],[190,0.641],[194,0.646],[198,0.64],[202,0.635],[206,0.64],[209,0.65],[211,0.63],[213,0.66],[215,0.62],[217,0.67],[219,0.61],[221,0.76],[222.3,0.81],[223.3,0.6],[224.5,0.413],[225.5,0.5],[226.7,0.7],[228,0.66],[229.3,0.58],[230.5,0.62],[232,0.68],[233.5,0.63],[235,0.6],[236.5,0.655],[238,0.65],[240,0.625],[242,0.65],[244,0.645],[247,0.638],[250,0.648],[254,0.642],[258,0.646],[262,0.64],[266,0.647],[270,0.641],[274,0.646],[278,0.64],[282,0.647],[286,0.642],[290,0.646],[294,0.64],[298,0.647],[302,0.641],[306,0.646],[310,0.64],[314,0.647],[318,0.641],[322,0.646],[326,0.64],[330,0.645],[333,0.64],[334.5,0.62],[336,0.65],[337.5,0.61],[339,0.64],[342,0.645],[346,0.64],[350,0.646],[354,0.641],[358,0.647],[362,0.642],[366,0.646],[370,0.64],[374,0.645],[378,0.64],[382,0.646],[386,0.641],[390,0.645],[394,0.64],[398,0.646],[402,0.641],[406,0.645],[410,0.64],[414,0.646],[418,0.641],[422,0.645],[426,0.64],[429,0.655],[431,0.62],[433,0.665],[435,0.61],[437,0.67],[439,0.6],[441,0.67],[443,0.62],[445,0.57],[446.5,0.72],[447.8,0.82],[449,0.475],[450.5,0.56],[452,0.72],[453.5,0.6],[455,0.58],[456.5,0.68],[458,0.64],[459.5,0.6],[461,0.66],[463,0.655],[465,0.62],[467,0.64],[469,0.65],[472,0.64],[476,0.645],[480,0.64],[485,0.643],[490,0.638],[495,0.636],[499,0.635]];

const simSeries = [simA, simB, simC, simD, simE, simF, simG, simH, simI];
const measSeries = [measA, measB, measC, measD, measE, measF, measG, measH, measI];

const W = 805;
const H = 1229;
const LX0 = 107;
const LX1 = 590;
const RX1 = 711.5;
const TOP = 12.3;
const ROW_H = 127;
const RED = '#e6332a';
const FONT = "'Liberation Serif', 'DejaVu Serif', serif";
const TICK_FS = 22;
const LABEL_FS = 22;

const xL = d3.scaleLinear().domain([-15.2, 499]).range([LX0, LX1]);
const xR = d3.scaleLinear().domain([-7.4, 39.9]).range([LX1, RX1]);

function Panel({ row, side }: { row: number; side: 'L' | 'R' }) {
  const top = TOP + row * ROW_H;
  const y = d3.scaleLinear().domain([0.232, 0.9]).range([top + ROW_H, top]);
  const x = side === 'L' ? xL : xR;
  const [x0, x1] = x.range();
  const line = d3.line<P>().x((d) => x(d[0])).y((d) => y(d[1]));
  const clipId = `clip-${side}-${row}`;
  const ticks = side === 'L' ? xTicksLeft : xTicksRight;
  const letter = rowLetters[row];
  return (
    <g>
      <defs>
        <clipPath id={clipId}>
          <rect x={x0} y={top} width={x1 - x0} height={ROW_H} />
        </clipPath>
      </defs>
      <line x1={x0} x2={x1} y1={y(0.5)} y2={y(0.5)} stroke="#9a9a9a" strokeWidth={1.1} strokeDasharray="1.3,3" />
      <g clipPath={`url(#${clipId})`}>
        <path d={line(simSeries[row]) || ''} fill="none" stroke={RED} strokeWidth={1.35} strokeLinejoin="round" />
        <path d={line(measSeries[row]) || ''} fill="none" stroke="#000" strokeWidth={1.35} strokeLinejoin="round" />
      </g>
      <rect x={x0} y={top} width={x1 - x0} height={ROW_H} fill="none" stroke="#000" strokeWidth={2.5} />
      {ticks.map((t) => (
        <line key={t} x1={x(t)} x2={x(t)} y1={top + ROW_H} y2={top + ROW_H + 6.5} stroke="#000" strokeWidth={1.6} />
      ))}
      {yTicks.map((v, i) => {
        const xa = side === 'L' ? x0 : x1;
        const xb = side === 'L' ? x0 - 6.5 : x1 + 6.5;
        return (
          <g key={v}>
            <line x1={xa} x2={xb} y1={y(v)} y2={y(v)} stroke="#000" strokeWidth={1.6} />
            <text
              x={side === 'L' ? 89 : 729}
              y={y(v) + 7.4}
              textAnchor={side === 'L' ? 'end' : 'start'}
              fontSize={TICK_FS}
              fontFamily={FONT}
              fill="#111"
            >
              {yTickLabels[i]}
            </text>
          </g>
        );
      })}
      <text x={side === 'L' ? 587 : 709.5} y={top + 31.5} textAnchor="end" fontSize={LABEL_FS} fontFamily={FONT} fill="#111">
        ({letter}{side === 'L' ? '1' : '2'})
      </text>
      {side === 'L' && (
        <text x={348} y={top + 115.7} fontSize={22.5} fontFamily={FONT} fill="#111">
          <tspan fontStyle="italic">F</tspan>
          <tspan fontSize={15} dy={5}>align</tspan>
          <tspan dy={-5}>{` = ${fluences[row]} J/cm`}</tspan>
          <tspan fontSize={15} dy={-10}>2</tspan>
        </text>
      )}
      {row === rowLetters.length - 1 &&
        ticks.map((t) => (
          <text key={`l${t}`} x={x(t)} y={1190} textAnchor="middle" fontSize={TICK_FS} fontFamily={FONT} fill="#111">
            {t}
          </text>
        ))}
    </g>
  );
}

function YLabel({ x }: { x: number }) {
  return (
    <text transform={`translate(${x},583.7) rotate(-90)`} textAnchor="middle" fontSize={LABEL_FS} fontFamily={FONT} fill="#111">
      <tspan>⟨cos</tspan>
      <tspan fontSize={15} dy={-9}>2</tspan>
      <tspan dy={9}> </tspan>
      <tspan fontStyle="italic">θ</tspan>
      <tspan fontSize={15} dy={4}>2D</tspan>
      <tspan dy={-4}>⟩</tspan>
    </text>
  );
}

export default function App() {
  const rows = rowLetters.map((_, i) => i);
  return (
    <svg width={W} height={H} viewBox={`0 0 ${W} ${H}`} style={{ position: 'absolute', left: 0, top: 0, background: '#fff' }}>
      <rect x={0} y={0} width={W} height={H} fill="#fff" />
      {rows.map((r) => (
        <g key={r}>
          <Panel row={r} side="L" />
          <Panel row={r} side="R" />
        </g>
      ))}
      <g fontFamily={FONT} fontSize={19} fill="#111">
        <line x1={124} x2={165} y1={38} y2={38} stroke={RED} strokeWidth={1.35} />
        <text x={180} y={44.5}>{seriesNames[0]}</text>
        <line x1={303} x2={343} y1={38} y2={38} stroke="#000" strokeWidth={1.35} />
        <text x={359} y={44.5}>{seriesNames[1]}</text>
      </g>
      <text x={(LX0 + LX1) / 2} y={1222} textAnchor="middle" fontSize={LABEL_FS} fontFamily={FONT} fill="#111">Time [ps]</text>
      <text x={(LX1 + RX1) / 2} y={1222} textAnchor="middle" fontSize={LABEL_FS} fontFamily={FONT} fill="#111">Time [ps]</text>
      <YLabel x={36} />
      <YLabel x={798} />
    </svg>
  );
}
